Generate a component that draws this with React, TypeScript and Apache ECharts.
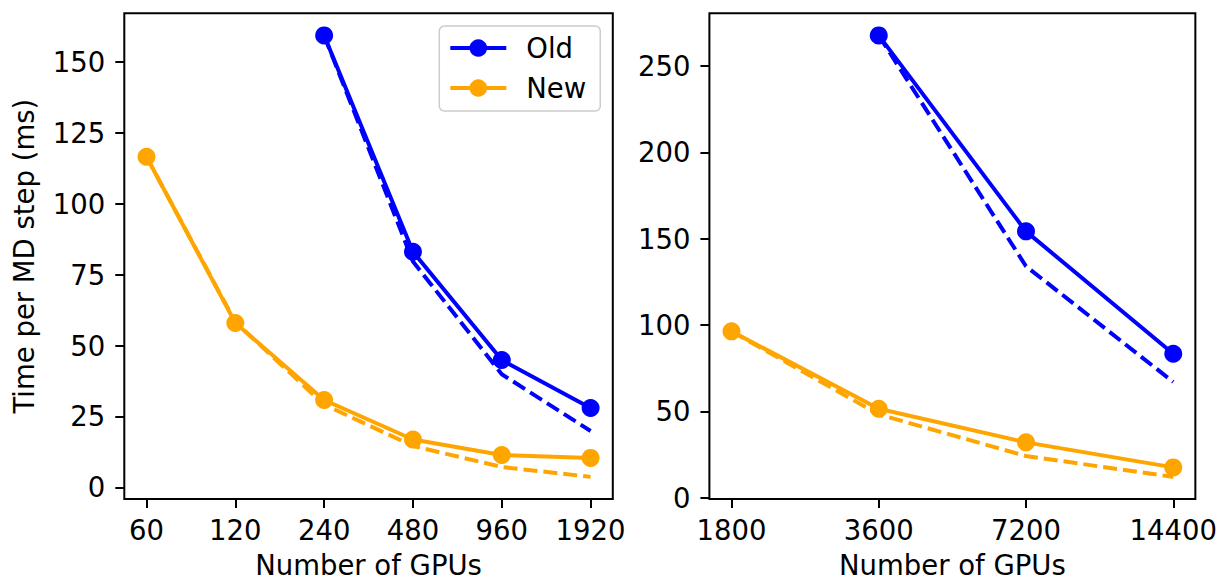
import React, { useEffect, useRef } from "react";
import * as echarts from "echarts";

// GPU counts on each panel (evenly spaced, doubling each step)
const leftGpus = ["60", "120", "240", "480", "960", "1920"];
const rightGpus = ["1800", "3600", "7200", "14400"];

// Measured time per MD step (ms)
const leftOld = [null, null, 159.4, 83.1, 44.9, 28.0];
const leftNew = [116.6, 58.0, 30.8, 16.9, 11.4, 10.4];
const rightOld = [null, 267.7, 154.2, 83.3];
const rightNew = [96.3, 51.5, 32.0, 17.5];

// Ideal strong-scaling reference (dashed)
const leftOldIdeal = [null, null, 159.4, 79.7, 39.9, 19.9];
const leftNewIdeal = [116.6, 58.3, 29.2, 14.6, 7.2, 3.7];
const rightOldIdeal = [null, 267.7, 134.0, 67.0];
const rightNewIdeal = [96.3, 48.2, 24.1, 12.0];

const leftYTicks = [0, 25, 50, 75, 100, 125, 150];
const rightYTicks = [0, 50, 100, 150, 200, 250];

const seriesNames = ["Old", "New"];
const BLUE = "#0000ff";
const ORANGE = "#ffa500";
const FONT = "DejaVu Sans";
const FS = 27.5;

const toPairs = (arr: (number | null)[]) =>
  arr
    .map((v, i) => (v == null ? null : [i, v]))
    .filter((p) => p !== null) as number[][];

const indexTicks = (labels: string[]) => labels.map((_, i) => i);

function xAxisFor(grid: number, labels: string[], pad: number) {
  return {
    type: "value",
    gridIndex: grid,
    min: -pad,
    max: labels.length - 1 + pad,
    axisLine: { show: false, onZero: false },
    splitLine: { show: false },
    axisTick: {
      show: true,
      length: 9,
      lineStyle: { color: "#000", width: 2 },
      customValues: indexTicks(labels),
    },
    axisLabel: {
      customValues: indexTicks(labels),
      formatter: (v: number) => labels[Math.round(v)],
      fontSize: FS,
      fontFamily: FONT,
      color: "#000",
      margin: 17,
    },
    name: "Number of GPUs",
    nameLocation: "middle",
    nameGap: 52,
    nameTextStyle: { fontSize: FS, fontFamily: FONT, color: "#000" },
  };
}

function yAxisFor(grid: number, ticks: number[], min: number, max: number, name?: string) {
  return {
    type: "value",
    gridIndex: grid,
    min,
    max,
    axisLine: { show: false, onZero: false },
    splitLine: { show: false },
    axisTick: {
      show: true,
      length: 9,
      lineStyle: { color: "#000", width: 2 },
      customValues: ticks,
    },
    axisLabel: {
      customValues: ticks,
      fontSize: FS,
      fontFamily: FONT,
      color: "#000",
      margin: 19,
    },
    name: name ?? "",
    nameLocation: "middle",
    nameGap: 86,
    nameTextStyle: { fontSize: FS, fontFamily: FONT, color: "#000" },
  };
}

function solid(name: string, color: string, data: (number | null)[], ax: number) {
  return {
    type: "line",
    name,
    xAxisIndex: ax,
    yAxisIndex: ax,
    data: toPairs(data),
    symbol: "circle",
    symbolSize: 18,
    itemStyle: { color },
    lineStyle: { color, width: 4 },
    z: 3,
  };
}

function dashed(name: string, color: string, data: (number | null)[], ax: number) {
  return {
    type: "line",
    name,
    xAxisIndex: ax,
    yAxisIndex: ax,
    data: toPairs(data),
    symbol: "none",
    itemStyle: { color },
    lineStyle: { color, width: 4, type: [14, 6] },
    z: 2,
  };
}

export default function App() {
  const ref = useRef<HTMLDivElement>(null);

  useEffect(() => {
    if (!ref.current) return;
    const chart = echarts.init(ref.current, null, { renderer: "svg" });
    chart.setOption({
      animation: false,
      backgroundColor: "#ffffff",
      textStyle: { fontFamily: FONT },
      grid: [
        { left: 124.3, top: 13.3, width: 488.5, height: 489.4, show: true, borderColor: "#000", borderWidth: 2 },
        { left: 709.4, top: 13.3, width: 487.3, height: 489.4, show: true, borderColor: "#000", borderWidth: 2 },
      ],
      xAxis: [xAxisFor(0, leftGpus, 0.25), xAxisFor(1, rightGpus, 0.15)],
      yAxis: [
        yAxisFor(0, leftYTicks, -4.1, 167.2, "Time per MD step (ms)"),
        yAxisFor(1, rightYTicks, -0.8, 280.5),
      ],
      legend: {
        data: seriesNames,
        orient: "vertical",
        left: 439.3,
        top: 26,
        itemWidth: 56,
        itemHeight: 22,
        itemGap: 12,
        padding: [8, 14, 9, 9],
        borderColor: "#cccccc",
        borderWidth: 1.5,
        borderRadius: 5,
        backgroundColor: "rgba(255,255,255,0.8)",
        lineStyle: { width: 4 },
        textStyle: {
          fontSize: FS,
          fontFamily: FONT,
          color: "#000",
          lineHeight: 28,
          padding: [0, 0, 0, 15],
        },
        selectedMode: false,
      },
      series: [
        dashed("Old ideal", BLUE, leftOldIdeal, 0),
        dashed("New ideal", ORANGE, leftNewIdeal, 0),
        solid(seriesNames[0], BLUE, leftOld, 0),
        solid(seriesNames[1], ORANGE, leftNew, 0),
        dashed("Old ideal", BLUE, rightOldIdeal, 1),
        dashed("New ideal", ORANGE, rightNewIdeal, 1),
        solid(seriesNames[0], BLUE, rightOld, 1),
        solid(seriesNames[1], ORANGE, rightNew, 1),
      ],
    });
    return () => chart.dispose();
  }, []);

  return (
    <div
      ref={ref}
      style={{ position: "absolute", left: 0, top: 0, width: 1220, height: 584 }}
    />
  );
}
